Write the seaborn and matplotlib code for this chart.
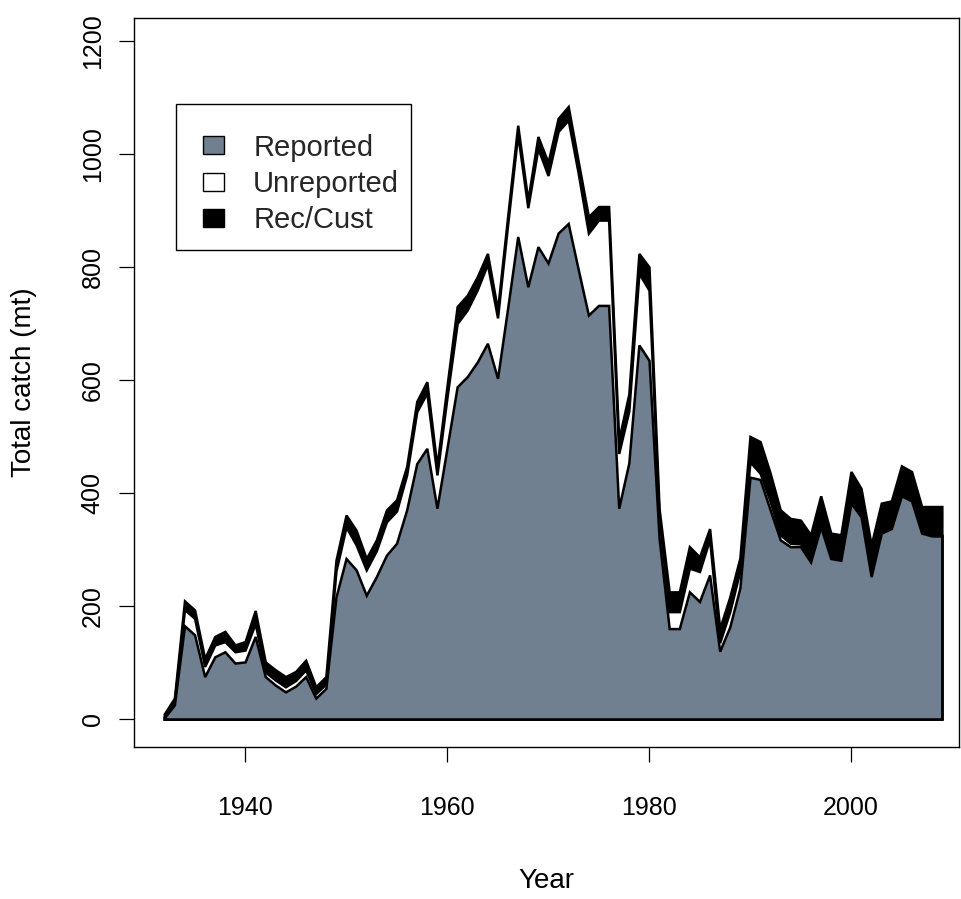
import matplotlib
matplotlib.use("Agg")
import matplotlib.pyplot as plt
from matplotlib.patches import Patch, Rectangle
import pandas as pd
import seaborn as sns

# Annual catch (mt) by component
years = list(range(1932, 2010))
reported = [2, 25, 165, 149, 75, 110, 119, 99, 101, 146,
            75, 60, 48, 58, 75, 37, 54, 216, 284, 264,
            219, 252, 290, 311, 370, 452, 479, 373, 480, 588,
            606, 632, 665, 603, 727, 854, 765, 836, 807, 860,
            877, 795, 715, 732, 732, 373, 453, 662, 635, 320,
            160, 160, 225, 208, 255, 120, 163, 232, 428, 424,
            370, 317, 305, 305, 278, 340, 284, 281, 382, 358,
            252, 329, 337, 395, 386, 329, 324, 324]
unreported = [2, 5, 29, 29, 18, 21, 18, 20, 21, 23,
              8, 9, 9, 10, 12, 8, 8, 46, 56, 44,
              45, 46, 59, 57, 62, 92, 98, 59, 90, 112,
              118, 128, 140, 107, 148, 181, 140, 174, 155, 180,
              183, 170, 145, 151, 151, 97, 92, 127, 124, 35,
              30, 30, 42, 53, 63, 15, 27, 30, 27, 11,
              15, 9, 6, 5, 7, 5, 3, 2, 2, 2,
              1, 1, 1, 1, 1, 1, 1, 1]
rec_cust = [5, 7, 15, 15, 14, 15, 18, 12, 15, 23,
            18, 18, 18, 16, 17, 12, 13, 19, 21, 26,
            20, 19, 21, 20, 15, 18, 20, 15, 20, 30,
            26, 23, 19, 14, 14, 16, 13, 21, 23, 23,
            24, 21, 29, 24, 24, 24, 30, 35, 41, 17,
            35, 35, 38, 26, 19, 25, 26, 23, 45, 56,
            50, 44, 44, 42, 41, 50, 42, 43, 54, 48,
            55, 52, 48, 52, 51, 46, 51, 51]

series_labels = ["Reported", "Unreported", "Rec/Cust"]
series_colors = ["#708090", "white", "black"]
x_ticks = [1940, 1960, 1980, 2000]
y_ticks = [0, 200, 400, 600, 800, 1000, 1200]

sns.set_theme(style="ticks")
plt.rcParams["font.family"] = ["Liberation Sans", "DejaVu Sans"]

df = pd.DataFrame({"Year": years, "Reported": reported,
                   "Unreported": unreported, "Rec/Cust": rec_cust})
df["top_rep"] = df["Reported"]
df["top_unrep"] = df["Reported"] + df["Unreported"]
df["top_total"] = df["top_unrep"] + df["Rec/Cust"]

W, H = 962, 899
fig = plt.figure(figsize=(W / 100, H / 100), dpi=100)
ax = fig.add_axes([134 / W, 1 - 747 / H, (959 - 134) / W, (747 - 18) / H])

# Cumulative polygons drawn back to front, each outlined in black
for col, color in [("top_total", series_colors[2]),
                   ("top_unrep", series_colors[1]),
                   ("top_rep", series_colors[0])]:
    ax.fill_between(df["Year"], 0, df[col], facecolor=color,
                    edgecolor="black", linewidth=1.8, joinstyle="miter")

ax.set_xlim(1929.0, 2010.7)
ax.set_ylim(-49.6, 1240.7)
ax.set_xticks(x_ticks)
ax.set_yticks(y_ticks)
ax.tick_params(axis="both", length=11, width=0.9, color="black",
               labelsize=18, labelcolor="black", direction="out")
ax.tick_params(axis="x", pad=24)
ax.tick_params(axis="y", pad=10)
for lab in ax.get_yticklabels():
    lab.set_rotation(90)
    lab.set_va("center")

for sp in ax.spines.values():
    sp.set_visible(True)
    sp.set_color("black")
    sp.set_linewidth(1.0)

ax.set_xlabel("Year", fontsize=20, color="black")
ax.set_ylabel("Total catch (mt)", fontsize=20, color="black")
ax.xaxis.set_label_coords(0.5, -0.166)
ax.yaxis.set_label_coords(-0.118, 0.5)

# Legend: framed box with filled squares
frame = Rectangle((176 / W, 1 - 250 / H), (411 - 176) / W, (250 - 104) / H,
                  transform=fig.transFigure, facecolor="white",
                  edgecolor="black", linewidth=1.0, zorder=5, clip_on=False)
ax.add_patch(frame)
handles = [Patch(facecolor=c, edgecolor="black", linewidth=1.0) for c in series_colors]
leg = ax.legend(handles, series_labels, loc="upper left",
                bbox_to_anchor=(203 / W, 1 - 133.5 / H),
                bbox_transform=fig.transFigure, fontsize=21,
                frameon=False, handlelength=0.72, handleheight=0.58,
                handletextpad=1.0, borderpad=0, labelspacing=0.29,
                borderaxespad=0)
leg.set_zorder(6)

fig.savefig("out.png", dpi=100, facecolor="white")
